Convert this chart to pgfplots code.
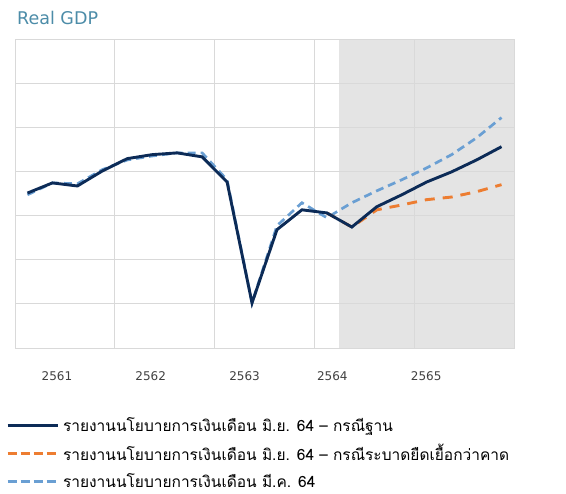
\documentclass[border=0pt]{standalone}
\usepackage{fontspec}
\setmainfont{DejaVu Sans}
\newfontfamily\thaifont[Script=Thai]{Loma}
\usepackage{pgfplots}
\pgfplotsset{compat=1.18}
\definecolor{navy}{HTML}{0C2B57}
\definecolor{orng}{HTML}{ED7D31}
\definecolor{lblue}{HTML}{6A9FD3}
\definecolor{shade}{HTML}{E4E4E4}
\definecolor{gridc}{HTML}{D9D9D9}
\definecolor{titlec}{HTML}{4C8CA8}
\definecolor{tickc}{HTML}{404040}
\begin{document}
\begin{tikzpicture}
\begin{axis}[
  set layers,
  at={(15pt,146pt)}, anchor=south west,
  scale only axis, width=499pt, height=309pt,
  xmin=-0.5, xmax=19.5, ymin=0, ymax=7,
  xtick={1.18,4.94,8.7,12.22,15.98},
  xticklabels={2561,2562,2563,2564,2565},
  x tick label style={font=\fontsize{12}{14}\selectfont, text=tickc, yshift=-20pt},
  extra x ticks={3.5,7.5,11.5,15.5},
  extra x tick labels={},
  extra x tick style={grid=major},
  ytick={1,2,3,4,5,6},
  yticklabels={},
  ymajorgrids,
  grid style={gridc, line width=0.8pt},
  axis line style={gridc, line width=0.8pt},
  tick style={draw=none},
  legend style={draw=none, fill=none, at={(-0.018,-0.226)}, anchor=north west,
    font=\thaifont\fontsize{15.5}{18}\selectfont, row sep=11pt, column sep=4pt, inner sep=0pt,
    nodes={inner sep=0pt}},
  legend cell align=left,
  legend image code/.code={\draw[#1] (0pt,0pt) -- (50pt,0pt);},
]
\addplot[fill=shade, draw=none, on layer=axis background, forget plot]
  coordinates {(12.5,7) (19.5,7)} \closedcycle;

% March 64 report (light blue dashed)
\addplot[lblue, line width=2.7pt, dash pattern=on 8pt off 5pt, forget plot] coordinates {
(0,3.47) (1,3.74) (2,3.72) (3,4.04) (4,4.26) (5,4.35) (6,4.42) (7,4.42)
(8,3.81) (9,1.02) (10,2.77) (11,3.29) (12,2.95) (13,3.29) (14,3.56)
(15,3.81) (16,4.08) (17,4.38) (18,4.76) (19,5.22)};

% June 64 prolonged outbreak (orange dashed)
\addplot[orng, line width=2.9pt, dash pattern=on 10pt off 8pt, forget plot] coordinates {
(12,3.06) (13,2.74) (14,3.13) (15,3.24) (16,3.36) (17,3.42) (18,3.54) (19,3.70)};

% June 64 baseline (navy solid)
\addplot[navy, line width=2.9pt, forget plot] coordinates {
(0,3.51) (1,3.74) (2,3.67) (3,4.01) (4,4.29) (5,4.38) (6,4.42) (7,4.33)
(8,3.76) (9,1.02) (10,2.68) (11,3.13) (12,3.06) (13,2.74) (14,3.20)
(15,3.47) (16,3.76) (17,3.99) (18,4.26) (19,4.56)};

\addlegendimage{navy, line width=2.8pt}
\addlegendentry{รายงานนโยบายการเงินเดือน มิ.ย. 64 – กรณีฐาน}
\addlegendimage{orng, line width=2.8pt, dash pattern=on 9pt off 4pt}
\addlegendentry{รายงานนโยบายการเงินเดือน มิ.ย. 64 – กรณีระบาดยืดเยื้อกว่าคาด}
\addlegendimage{lblue, line width=2.8pt, dash pattern=on 9pt off 4pt}
\addlegendentry{รายงานนโยบายการเงินเดือน มี.ค. 64}
\end{axis}
\node[anchor=west, text=titlec, font=\fontsize{17.5}{20}\selectfont, inner sep=0pt] at (17pt,476pt) {Real GDP};
\path (0,0) rectangle (566pt,494pt);
\end{tikzpicture}
\end{document}
